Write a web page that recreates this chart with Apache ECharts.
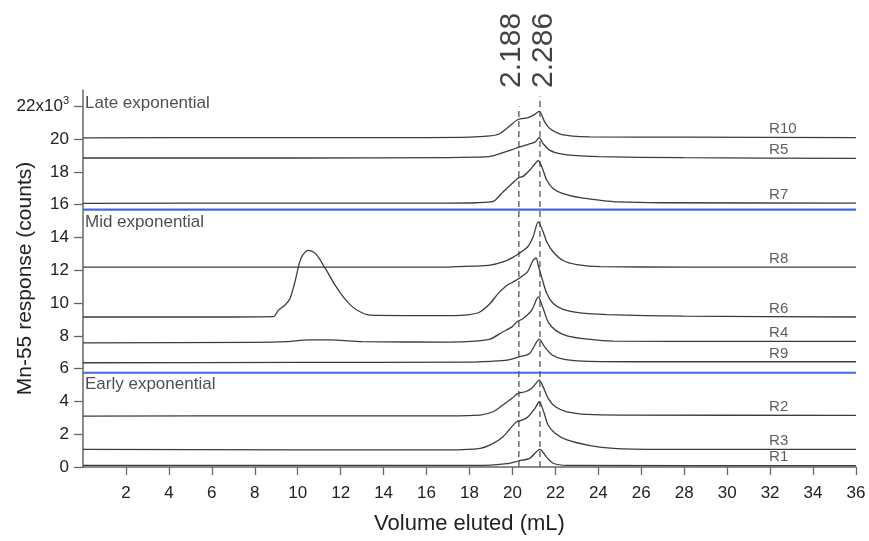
<!DOCTYPE html>
<html>
<head>
<meta charset="utf-8">
<script src="https://cdn.jsdelivr.net/npm/echarts@6/dist/echarts.min.js"></script>
<style>html,body{margin:0;padding:0;background:#fff}#c{width:869px;height:541px}</style>
</head>
<body>
<div id="c"></div>
<script>
// ---- data (x = volume eluted, mL; y = response, x10^3 counts) ----
const xTicks = [2,4,6,8,10,12,14,16,18,20,22,24,26,28,30,32,34,36];
const yTicks = [0,2,4,6,8,10,12,14,16,18,20,22];

const R10 = [[0,20.08],[8,20.1],[16,20.1],[18,20.12],[18.96,20.2],[19.4,20.33],[19.9,20.84],[20.26,21.2],[20.7,21.3],[20.96,21.45],[21.25,21.7],[21.5,21.05],[21.75,20.64],[22.2,20.33],[22.8,20.19],[23.6,20.14],[28,20.12],[36,20.1]];
const R5 = [[0,18.85],[10,18.85],[17,18.87],[18.3,18.9],[18.96,18.95],[19.56,19.18],[19.98,19.36],[20.3,19.52],[20.73,19.68],[21.05,19.82],[21.25,20.09],[21.43,19.72],[21.75,19.32],[22.2,19.12],[22.8,19.01],[24,18.93],[28,18.87],[36,18.83]];
const R7 = [[0,16.08],[10,16.1],[17,16.1],[18.3,16.12],[19.1,16.2],[19.56,16.78],[19.98,17.29],[20.26,17.63],[20.5,17.73],[20.8,18.1],[21.05,18.5],[21.2,18.7],[21.4,18.2],[21.6,17.49],[21.9,16.98],[22.36,16.68],[23.15,16.43],[24.1,16.27],[24.9,16.17],[27,16.12],[36,16.1]];
const R8 = [[0,12.2],[10,12.2],[17,12.2],[18.2,12.25],[18.96,12.31],[19.56,12.51],[19.98,12.76],[20.3,13.02],[20.7,13.42],[20.96,14.03],[21.2,14.95],[21.4,14.44],[21.6,13.73],[21.9,13.12],[22.36,12.6],[23.0,12.35],[24.1,12.22],[28,12.2],[36,12.2]];
const R6 = [[0,9.15],[5,9.15],[8.87,9.18],[9.1,9.57],[9.4,9.87],[9.64,10.28],[9.87,11.29],[10.07,12.41],[10.23,12.92],[10.5,13.22],[10.73,13.12],[10.96,12.81],[11.19,12.31],[11.43,11.8],[11.74,11.09],[12.12,10.38],[12.5,9.83],[12.9,9.47],[13.37,9.26],[15,9.24],[17,9.24],[18.0,9.3],[18.5,9.47],[18.96,9.97],[19.33,10.58],[19.75,11.09],[20.03,11.29],[20.3,11.5],[20.7,11.9],[20.96,12.61],[21.1,12.75],[21.2,12.31],[21.4,11.4],[21.6,10.58],[21.9,9.97],[22.36,9.61],[23.15,9.4],[24.4,9.3],[28,9.2],[36,9.15]];
const R4 = [[0,7.57],[8,7.6],[9.5,7.65],[10.5,7.75],[11.5,7.75],[13,7.65],[17,7.62],[18.3,7.68],[18.96,7.8],[19.56,8.25],[19.98,8.55],[20.2,8.85],[20.5,9.06],[20.9,9.57],[21.2,10.38],[21.43,9.67],[21.66,8.85],[22.0,8.35],[22.54,8.0],[23.5,7.8],[24.7,7.68],[30,7.66],[36,7.66]];
const R9 = [[0,6.36],[10,6.38],[18,6.4],[19.0,6.45],[19.75,6.52],[20.3,6.72],[20.8,6.93],[21.25,7.8],[21.5,7.33],[21.85,6.83],[22.36,6.58],[23.3,6.46],[26,6.42],[36,6.42]];
const R2 = [[0,3.1],[10,3.12],[17,3.12],[18.5,3.17],[19.1,3.37],[19.56,3.78],[19.98,4.19],[20.26,4.49],[20.6,4.59],[20.9,4.8],[21.25,5.3],[21.43,4.89],[21.66,4.19],[22.0,3.67],[22.54,3.37],[23.5,3.21],[25,3.17],[36,3.15]];
const R3 = [[0,1.07],[10,1.05],[17,1.05],[18.5,1.14],[19.1,1.44],[19.56,1.85],[19.9,2.36],[20.2,2.76],[20.45,2.86],[20.73,3.07],[21.05,3.58],[21.25,3.98],[21.43,3.47],[21.66,2.56],[22.0,2.05],[22.54,1.65],[23.5,1.34],[24.7,1.14],[27,1.08],[36,1.07]];
const R1 = [[0,0.1],[17,0.1],[19,0.12],[19.75,0.2],[20.3,0.38],[20.8,0.53],[21.28,1.08],[21.6,0.59],[21.9,0.23],[22.54,0.1],[36,0.08]];

const traceNames = ['R10','R5','R7','R8','R6','R4','R9','R2','R3','R1'];
const traces = [R10,R5,R7,R8,R6,R4,R9,R2,R3,R1];
const traceBaselines = [20.12,18.85,16.1,12.2,9.15,7.65,6.4,3.15,1.07,0.1];
const traceLabelX = 32;

const groupSeparators = [15.7, 5.75];
const groupNames = ['Late exponential','Mid exponential','Early exponential'];
const groupNameY = [22.2, 14.93, 5.06];

const peakVolumes = [20.3, 21.28];
const peakLabels = ['2.188','2.286'];
const peakLineTops = [22.0, 22.6];

// ---- chart ----
const FONT = 'Arial, "Liberation Sans", sans-serif';
const chart = echarts.init(document.getElementById('c'), null, {renderer:'canvas'});

const series = [];
traces.forEach((d,i)=>{
  series.push({
    name: traceNames[i], type:'line', data:d, showSymbol:false, silent:true, smooth:0.25,
    lineStyle:{color:'#3c3c3c', width:1.3}, z:3
  });
});
groupSeparators.forEach(v=>{
  series.push({
    type:'line', data:[[0,v],[36,v]], showSymbol:false, silent:true,
    lineStyle:{color:'#4169e1', width:2.2}, z:2
  });
});
peakVolumes.forEach((v,i)=>{
  series.push({
    type:'line', data:[[v,0],[v,peakLineTops[i]]], showSymbol:false, silent:true,
    lineStyle:{color:'#555', width:1.3, type:[6,4]}, z:2
  });
});
// peak labels (offset is in the rotated frame: [along text, across text])
const peakLabelShift = [-7, 4];
series.push({
  type:'scatter', symbolSize:0, silent:true, clip:false,
  data: peakVolumes.map((v,i)=>({value:[v,23,peakLabels[i]], label:{offset:[2, peakLabelShift[i]]}})),
  label:{show:true, position:'inside', rotate:90, align:'left', verticalAlign:'middle',
    fontFamily:FONT, fontSize:30, color:'#111',
    formatter:p=>p.value[2]}
});
// trace labels
series.push({
  type:'scatter', symbolSize:0, silent:true,
  data: traceNames.map((n,i)=>[traceLabelX, traceBaselines[i], n]),
  label:{show:true, position:'inside', align:'left', verticalAlign:'bottom', offset:[-1,-1],
    fontFamily:FONT, fontSize:15, color:'#333', formatter:p=>p.value[2]}
});
// group labels
series.push({
  type:'scatter', symbolSize:0, silent:true, clip:false,
  data: groupNames.map((n,i)=>[0, groupNameY[i], n]),
  label:{show:true, position:'inside', align:'left', verticalAlign:'middle', offset:[2,0],
    fontFamily:FONT, fontSize:17, color:'#222', formatter:p=>p.value[2]}
});

chart.setOption({
  animation:false,
  backgroundColor:'#fff',
  grid:{left:83, right:13, top:90, bottom:74, containLabel:false, outerBoundsMode:'none'},
  xAxis:{
    type:'value', min:0, max:36,
    name:'Volume eluted (mL)', nameLocation:'middle', nameGap:46, nameMoveOverlap:false,
    nameTextStyle:{fontFamily:FONT, fontSize:22, color:'#222'},
    axisLine:{show:true, onZero:false, lineStyle:{color:'#666', width:1.5}},
    axisTick:{show:true, inside:false, length:8, lineStyle:{color:'#666', width:1.3}, customValues:xTicks},
    axisLabel:{fontFamily:FONT, fontSize:17, color:'#222', margin:18, customValues:xTicks},
    splitLine:{show:false}
  },
  yAxis:{
    type:'value', min:0, max:23,
    name:'Mn-55 response (counts)', nameLocation:'middle', nameGap:47, nameRotate:90, nameMoveOverlap:false,
    nameTextStyle:{fontFamily:FONT, fontSize:21, color:'#222'},
    axisLine:{show:true, onZero:false, lineStyle:{color:'#666', width:1.5}},
    axisTick:{show:true, inside:false, length:9, lineStyle:{color:'#666', width:1.3}, customValues:yTicks},
    axisLabel:{fontFamily:FONT, fontSize:17, color:'#222', margin:14, customValues:yTicks,
      formatter:v=> v===22 ? '22x10{sup|3}' : String(v),
      rich:{sup:{fontFamily:FONT, fontSize:11, color:'#222', padding:[0,0,10,0]}}
    },
    splitLine:{show:false}
  },
  series
});
</script>
</body>
</html>
